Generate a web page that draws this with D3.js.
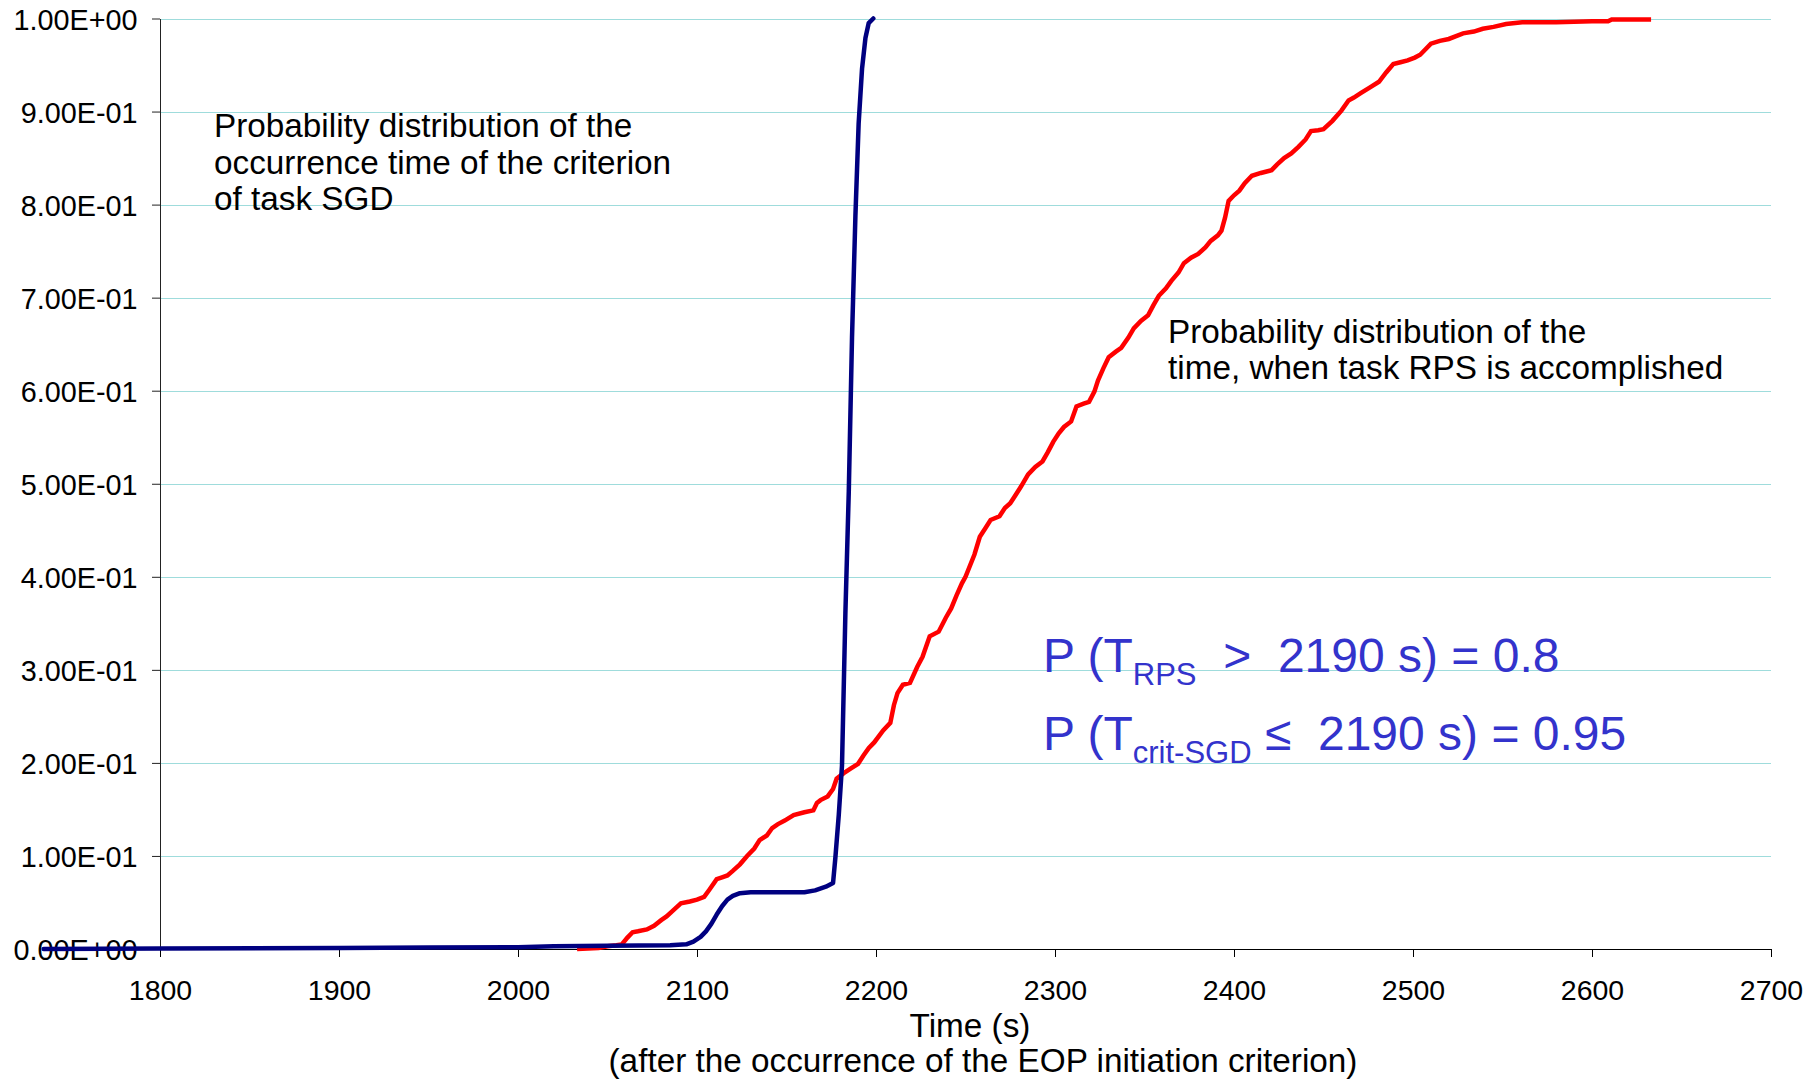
<!DOCTYPE html>
<html>
<head>
<meta charset="utf-8">
<script src="https://cdn.jsdelivr.net/npm/d3@7"></script>
<style>
  body { margin: 0; background: #fff; }
  svg text { font-family: "Liberation Sans", Arial, sans-serif; }
</style>
</head>
<body>
<script>
// x axis ticks (time, s) and y axis ticks (probability)
const xTicks = [1800, 1900, 2000, 2100, 2200, 2300, 2400, 2500, 2600, 2700];
const yTicks = [0, 0.1, 0.2, 0.3, 0.4, 0.5, 0.6, 0.7, 0.8, 0.9, 1.0];

// criterion of task SGD
const sgdTime = [1735, 1800, 1900, 1950, 2000, 2020, 2050, 2085, 2094, 2098, 2102, 2105, 2108, 2111, 2114, 2117, 2120, 2124, 2130, 2160, 2166, 2172, 2176, 2177.3, 2179.2, 2181, 2182.9, 2184.8, 2186.6, 2188.5, 2190.3, 2192.2, 2194.1, 2195.9, 2198.5];
const sgdProb = [0, 0.0005, 0.001, 0.0015, 0.002, 0.003, 0.0035, 0.004, 0.005, 0.008, 0.013, 0.019, 0.027, 0.037, 0.046, 0.053, 0.057, 0.060, 0.061, 0.061, 0.063, 0.067, 0.071, 0.098, 0.144, 0.197, 0.361, 0.492, 0.657, 0.788, 0.887, 0.946, 0.979, 0.995, 1.0];

// task RPS accomplished
const rpsTime = [2033, 2045, 2050, 2055, 2058, 2061, 2064, 2067, 2072, 2076, 2080, 2083, 2087, 2091, 2096, 2100, 2104, 2107, 2111, 2114, 2117, 2120, 2124, 2128, 2132, 2135, 2139, 2142, 2145, 2149, 2154, 2160, 2165, 2167, 2169, 2173, 2176, 2178, 2182, 2186, 2190, 2193, 2196, 2199, 2204, 2208, 2210, 2212, 2215, 2219, 2223, 2226, 2230, 2235, 2239, 2242, 2245, 2248, 2250, 2255, 2258, 2261, 2264, 2269, 2272, 2275, 2278, 2281, 2285, 2289, 2293, 2296, 2299, 2302, 2305, 2309, 2312, 2316, 2319, 2322, 2324, 2327, 2330, 2334, 2337, 2341, 2344, 2348, 2352, 2355, 2358, 2362, 2365, 2369, 2372, 2376, 2380, 2384, 2387, 2391, 2393, 2395, 2397, 2400, 2403, 2406, 2410, 2415, 2421, 2424, 2428, 2432, 2436, 2440, 2443, 2447, 2450, 2455, 2460, 2464, 2467, 2471, 2476, 2481, 2485, 2489, 2493, 2497, 2501, 2504, 2507, 2510, 2515, 2520, 2528, 2534, 2539, 2545, 2552, 2561, 2580, 2600, 2609, 2611, 2633];
const rpsProb = [0, 0.001, 0.003, 0.004, 0.005, 0.012, 0.018, 0.019, 0.021, 0.025, 0.031, 0.035, 0.042, 0.049, 0.051, 0.053, 0.056, 0.064, 0.075, 0.077, 0.079, 0.084, 0.091, 0.100, 0.108, 0.117, 0.122, 0.130, 0.134, 0.138, 0.144, 0.147, 0.149, 0.157, 0.160, 0.164, 0.172, 0.183, 0.189, 0.194, 0.199, 0.208, 0.216, 0.222, 0.235, 0.243, 0.262, 0.275, 0.284, 0.286, 0.303, 0.314, 0.336, 0.341, 0.356, 0.366, 0.380, 0.393, 0.400, 0.424, 0.443, 0.452, 0.461, 0.465, 0.474, 0.479, 0.488, 0.497, 0.510, 0.518, 0.524, 0.534, 0.545, 0.554, 0.561, 0.567, 0.583, 0.586, 0.588, 0.599, 0.611, 0.624, 0.636, 0.642, 0.646, 0.657, 0.667, 0.675, 0.681, 0.692, 0.702, 0.710, 0.718, 0.727, 0.737, 0.743, 0.747, 0.754, 0.761, 0.767, 0.772, 0.786, 0.804, 0.810, 0.815, 0.823, 0.831, 0.834, 0.837, 0.843, 0.850, 0.855, 0.862, 0.870, 0.879, 0.880, 0.881, 0.890, 0.901, 0.912, 0.915, 0.920, 0.926, 0.932, 0.942, 0.951, 0.953, 0.955, 0.958, 0.961, 0.967, 0.973, 0.976, 0.978, 0.984, 0.986, 0.989, 0.991, 0.994, 0.996, 0.996, 0.997, 0.997, 0.999, 0.999];

const sgdLabel = ["Probability distribution of the", "occurrence time of the criterion", "of task SGD"];
const rpsLabel = ["Probability distribution of the", "time, when task RPS is accomplished"];
const xTitle = ["Time (s)", "(after the occurrence of the EOP initiation criterion)"];

const width = 1817, height = 1083;
const margin = {left: 160, right: 46, top: 18.5, bottom: 134};

const x = d3.scaleLinear([1800, 2700], [margin.left, width - margin.right]);
const y = d3.scaleLinear([0, 1], [height - margin.bottom, margin.top]);

// Excel style scientific labels: 1.00E+00, 9.00E-01
function sci(d) {
  const [m, e] = d.toExponential(2).split("e");
  const sign = e[0] === "-" ? "-" : "+";
  return m + "E" + sign + e.replace(/[+-]/, "").padStart(2, "0");
}

const svg = d3.select("body").append("svg")
    .attr("width", width)
    .attr("height", height);

// gridlines
svg.append("g")
    .attr("stroke", "#9fdcdc")
    .attr("stroke-width", 1)
  .selectAll("line")
  .data(yTicks.filter(d => d > 0))
  .join("line")
    .attr("x1", x(1800))
    .attr("x2", x(2700))
    .attr("y1", d => Math.round(y(d)) + 0.5)
    .attr("y2", d => Math.round(y(d)) + 0.5);

const yAxis = svg.append("g")
    .attr("transform", `translate(${margin.left},0)`)
    .call(d3.axisLeft(y).tickValues(yTicks).tickFormat(sci).tickSize(8).tickSizeOuter(0).tickPadding(14.5));
yAxis.selectAll("text")
    .attr("font-size", 28.8)
    .attr("font-family", null)
    .attr("dy", "0.38em")
    .attr("fill", "#000");
yAxis.selectAll("line, path").attr("stroke", "#222");

const xAxis = svg.append("g")
    .attr("transform", `translate(0,${y(0)})`)
    .call(d3.axisBottom(x).tickValues(xTicks).tickFormat(d3.format("d")).tickSize(8).tickSizeOuter(0).tickPadding(23));
xAxis.selectAll("text")
    .attr("font-size", 28.5)
    .attr("font-family", null)
    .attr("fill", "#000");
xAxis.selectAll("line, path").attr("stroke", "#000");

// axis title, two lines
svg.append("g")
    .attr("font-size", 33.3)
    .attr("text-anchor", "middle")
  .selectAll("text")
  .data(xTitle)
  .join("text")
    .attr("x", (d, i) => i === 0 ? 970 : 983)
    .attr("y", (d, i) => 1037 + i * 35)
    .text(d => d);

const line = d3.line()
    .x(d => x(d[0]))
    .y(d => y(d[1]));

const rps = rpsTime.map((t, i) => [t, rpsProb[i]]);
const sgd = sgdTime.map((t, i) => [t, sgdProb[i]]);

svg.append("path")
    .datum(rps)
    .attr("fill", "none")
    .attr("stroke", "#ff0000")
    .attr("stroke-width", 4.5)
    .attr("stroke-linejoin", "miter")
    .attr("d", line);

svg.append("path")
    .datum(sgd)
    .attr("fill", "none")
    .attr("stroke", "#000080")
    .attr("stroke-width", 4.5)
    .attr("stroke-linejoin", "round")
    .attr("stroke-linecap", "round")
    .attr("d", line);

// curve labels
svg.append("g")
    .attr("font-size", 33.3)
  .selectAll("text")
  .data(sgdLabel)
  .join("text")
    .attr("x", 214)
    .attr("y", (d, i) => 137 + i * 36.7)
    .text(d => d);

svg.append("g")
    .attr("font-size", 33.3)
  .selectAll("text")
  .data(rpsLabel)
  .join("text")
    .attr("x", 1168)
    .attr("y", (d, i) => 343 + i * 36)
    .text(d => d);

// probability statements (non-breaking spaces keep the wide gaps)
const stmt = svg.append("g")
    .attr("fill", "#3333cc")
    .attr("font-size", 48);

const s1 = stmt.append("text").attr("x", 1043).attr("y", 672);
s1.append("tspan").text("P (T");
s1.append("tspan").attr("font-size", 31).attr("dy", 13).text("RPS");
s1.append("tspan").attr("dy", -13).text("\u00a0\u00a0>\u00a0\u00a02190 s) = 0.8");

const s2 = stmt.append("text").attr("x", 1043).attr("y", 750);
s2.append("tspan").text("P (T");
s2.append("tspan").attr("font-size", 31).attr("dy", 13).text("crit-SGD");
s2.append("tspan").attr("dy", -13).text("\u00a0\u2264\u00a0\u00a02190 s) = 0.95");
</script>
</body>
</html>
